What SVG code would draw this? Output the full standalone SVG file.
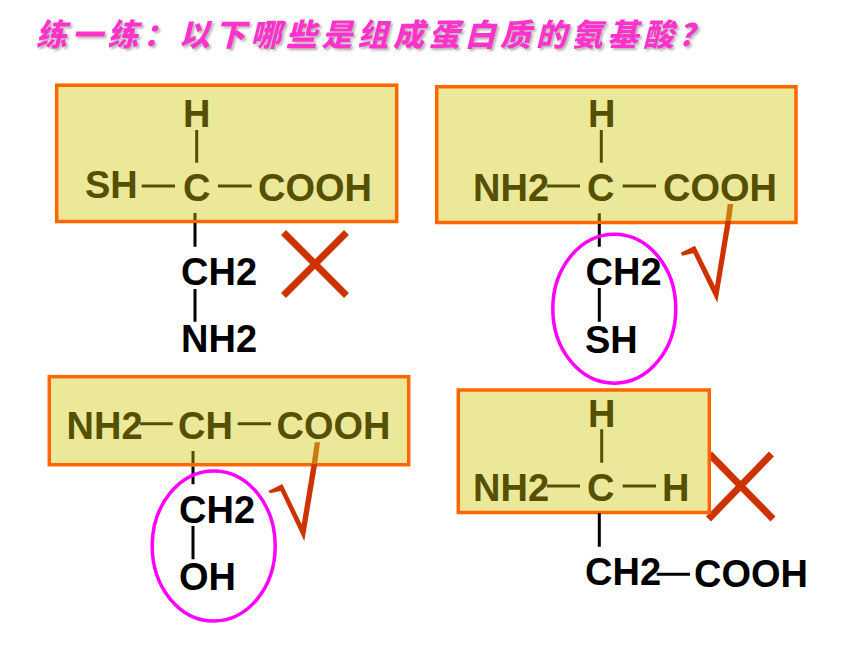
<svg xmlns="http://www.w3.org/2000/svg" width="860" height="645" viewBox="0 0 860 645">
<style>
text{font-family:"Liberation Sans",Arial,sans-serif;font-weight:700;font-size:38px;fill:#000}
.in{fill:#555000}
.title{font-family:"Noto Sans CJK SC","Noto Sans",sans-serif;font-weight:900;font-style:italic;font-size:31px;letter-spacing:4.7px;fill:#ff33cc;filter:url(#sh)}
.box{fill:#ebe89a;stroke:#ff6600;stroke-width:3.5}
.c{stroke:#000;stroke-width:3;fill:none}
.o{stroke:#555000;stroke-width:3;fill:none}
.x{stroke:#cc3300;stroke-width:7;fill:none}
.ring{stroke:#ff00ff;stroke-width:3.5;fill:none}
.chk{fill:#cc3300}
.chk2{fill:#cc7a10}
</style>
<defs>
<filter id="sh" x="-5%" y="-30%" width="110%" height="160%"><feDropShadow dx="2" dy="2" stdDeviation="1" flood-color="#999" flood-opacity="0.7"/></filter>
</defs>
<g id="title"><text class="title" x="36" y="46">练一练：以下哪些是组成蛋白质的氨基酸？</text></g>

<g id="mark-x-1"><path class="x" d="M283.5 232.5L346.5 295.5M346.5 232.5L283.5 295.5"/></g>
<g id="mark-x-4"><path class="x" d="M709.5 454L773 519M771.5 454L708.5 519"/></g>

<g id="node-1">
<rect class="box" x="56.7" y="85.2" width="340" height="136.3"/>
<text class="in" x="183" y="127">H</text>
<text class="in" x="85" y="198">SH</text>
<text class="in" x="183" y="201">C</text>
<text class="in" x="258" y="201">COOH</text>
<text x="181" y="285">CH2</text>
<text x="181" y="352">NH2</text>
</g>
<g id="node-2">
<rect class="box" x="436.7" y="86.7" width="359.3" height="135.8"/>
<text class="in" x="588" y="127">H</text>
<text class="in" x="473" y="201">NH2</text>
<text class="in" x="587" y="201">C</text>
<text class="in" x="663" y="201">COOH</text>
<text x="585.5" y="285">CH2</text>
<text x="585" y="353">SH</text>
</g>
<g id="node-3">
<rect class="box" x="49.3" y="376.7" width="359.4" height="88"/>
<text class="in" x="66.5" y="438.5">NH2</text>
<text class="in" x="178" y="438.5">CH</text>
<text class="in" x="276.5" y="438.5">COOH</text>
<text x="179" y="522.5">CH2</text>
<text x="179" y="590">OH</text>
</g>
<g id="node-4">
<rect class="box" x="458.3" y="390" width="251" height="122.5"/>
<text class="in" x="588" y="427">H</text>
<text class="in" x="473" y="501">NH2</text>
<text class="in" x="587" y="501">C</text>
<text class="in" x="662" y="501">H</text>
<text x="585" y="585">CH2</text>
<text x="694" y="587">COOH</text>
</g>

<g id="connectors">
<path class="o" d="M196.7 130V162.7M141.7 186H175M218 186H251.7M195 213V220"/>
<path class="c" d="M195 223V246.7M195 289V321.7"/>
<path class="o" d="M601.3 130V162.7M546.7 186H580M622.7 186H656M599.3 213.3V221"/>
<path class="c" d="M599.3 224V246.7M599.3 288V321.7"/>
<path class="o" d="M140 423.7H172.7M237.7 423.7H271M193 451V463"/>
<path class="c" d="M193 466.5V484.3M193 526V559.3"/>
<path class="o" d="M601.7 429.3V462.7M546.7 486H580M622.7 486H656"/>
<path class="c" d="M599.3 513.3V546.7M656.7 574.3H690"/>
</g>

<g id="ring-2"><ellipse class="ring" cx="614.3" cy="308.7" rx="61.5" ry="74.5"/></g>
<g id="ring-3"><ellipse class="ring" cx="213.7" cy="546" rx="61.5" ry="75"/></g>

<g id="mark-check-2">
<polygon class="chk" points="680.7,252.7 695,245.7 715,286 725.5,221 731,221 717.3,302.7 693.3,253.3 682.3,255.7"/>
<polygon class="chk2" points="727.7,204 733.3,204 731,221 725.5,221"/>
</g>
<g id="mark-check-3">
<polygon class="chk" points="268.3,491 282.3,484 301.7,524.3 311.6,464 317.2,464 304.3,541 280.7,491 270,493.3"/>
<polygon class="chk2" points="314.8,442.3 320,442.3 317.2,464 311.6,464"/>
</g>
</svg>
